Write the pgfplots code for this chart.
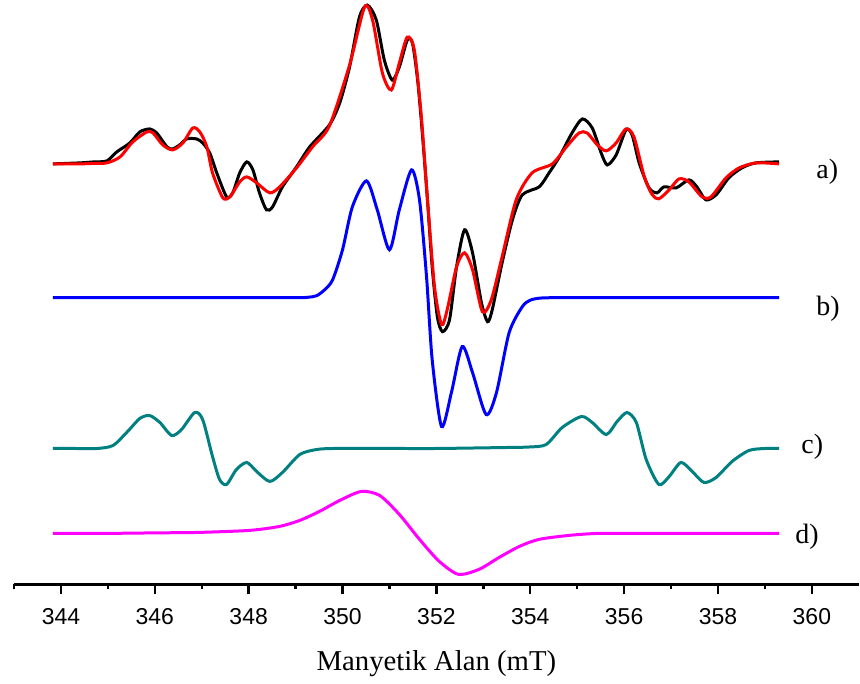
\documentclass[border=0pt]{standalone}
\usepackage{fontspec}
\setmainfont{Liberation Serif}
\newfontfamily\sansf{Liberation Sans}
\usepackage{pgfplots}
\pgfplotsset{compat=1.18}

\definecolor{expblack}{RGB}{0,0,0}
\definecolor{simred}{RGB}{255,0,0}
\definecolor{simblue}{RGB}{0,0,255}
\definecolor{simteal}{RGB}{0,128,128}
\definecolor{simmag}{RGB}{255,0,255}

\begin{document}
\begin{tikzpicture}
\begin{axis}[
    scale only axis,
    width=423pt, height=292.5pt,
    xmin=343, xmax=361, ymin=0, ymax=585,
    axis x line=bottom,
    axis y line=none,
    x axis line style={-, line width=1.2pt},
    xtick={344,346,...,360},
    minor xtick={343,345,...,359},
    tick align=outside,
    major tick length=5pt,
    minor tick length=2.5pt,
    every tick/.style={black, line width=1.2pt},
    /pgf/number format/assume math mode=true,
    xticklabel style={font=\sansf\fontsize{11.5}{12}\selectfont, yshift=-3.5pt},
    xlabel={Manyetik Alan (mT)},
    xlabel style={font=\fontsize{14.4}{16}\selectfont, at={(axis description cs:0.5,0)}, anchor=base, yshift=-43pt},
    clip=false,
    every axis plot/.append style={line width=1.5pt, smooth, tension=0.45},
]

% a) experimental
\addplot[expblack] coordinates {
(343.83,421) (344.40,422) (344.70,423) (344.98,424) (345.19,433) (345.47,442) (345.68,453) (345.89,456)
(346.04,452) (346.26,438) (346.38,436) (346.53,440) (346.68,446) (346.89,446)
(347.02,442) (347.17,432) (347.32,412) (347.53,388) (347.66,392) (347.81,412)
(347.96,423) (348.09,415) (348.23,392) (348.38,375) (348.51,378) (348.72,398)
(349.02,418) (349.30,438) (349.72,460) (349.94,482) (350.15,518) (350.36,568)
(350.53,580) (350.72,565) (350.89,525) (351.06,505) (351.21,518) (351.38,545)
(351.49,542) (351.60,505) (351.70,452) (351.81,385) (351.91,318) (352.02,268)
(352.13,253) (352.28,265) (352.43,318) (352.60,355) (352.77,332) (352.96,282)
(353.09,263) (353.19,275) (353.40,322) (353.62,365) (353.83,390) (354.19,398)
(354.40,412) (354.62,428) (354.89,452) (355.11,466) (355.32,457) (355.51,432)
(355.64,420) (355.83,430) (356.04,455) (356.17,450) (356.32,422) (356.53,397)
(356.70,392) (356.85,398) (357.11,397) (357.38,405) (357.55,398) (357.74,385)
(357.96,390) (358.23,407) (358.51,417) (358.81,422) (359.30,423)
};

% a) simulated
\addplot[simred] coordinates {
(343.83,421) (344.40,421) (344.70,421.5) (344.98,422) (345.26,428) (345.53,443) (345.83,453) (345.96,452)
(346.17,440) (346.38,435) (346.60,442) (346.81,457) (346.96,453) (347.11,438)
(347.23,412) (347.45,387) (347.60,388) (347.81,403) (347.96,408) (348.17,402)
(348.45,392) (348.66,398) (349.02,417) (349.36,438) (349.72,459) (350.15,520)
(350.47,578) (350.64,565) (350.85,512) (351.04,495) (351.21,522) (351.38,548)
(351.53,535) (351.68,468) (351.81,385) (351.96,298) (352.11,260) (352.23,275)
(352.43,318) (352.60,332) (352.77,315) (352.98,273) (353.17,285) (353.40,328)
(353.70,385) (354.04,412) (354.47,421) (354.77,438) (355.04,452) (355.21,452)
(355.43,440) (355.62,434) (355.83,442) (356.04,456) (356.21,448) (356.43,408)
(356.60,390) (356.74,386) (356.96,395) (357.17,406) (357.38,403) (357.66,388)
(357.85,388) (358.17,407) (358.45,417) (358.81,422) (359.30,421)
};

% b)
\addplot[simblue] coordinates {
(343.83,287) (345.00,287) (346.00,287) (347.00,287) (348.00,287) (348.60,287)
(349.09,287) (349.28,287.5) (349.45,289) (349.62,295) (349.79,305) (350.00,335) (350.21,378)
(350.51,404) (350.74,375) (351.00,335) (351.21,375) (351.47,415) (351.64,385)
(351.79,308) (351.91,225) (352.11,158) (352.32,192) (352.55,238) (352.77,212)
(353.06,170) (353.28,192) (353.55,252) (353.83,278) (354.00,284.5) (354.19,286.5)
(354.45,287) (354.80,287) (355.50,287) (356.50,287) (357.50,287) (358.50,287) (359.30,287)
};

% c)
\addplot[simteal] coordinates {
(343.83,136) (344.30,136) (344.77,136) (345.11,139) (345.40,152) (345.68,166) (345.89,169)
(346.11,162) (346.36,149) (346.57,155) (346.85,172) (347.02,165) (347.23,128)
(347.38,105) (347.53,100) (347.74,115) (347.96,122) (348.17,113) (348.45,103)
(348.72,112) (349.09,130) (349.45,135) (349.80,136) (350.50,136) (351.21,136)
(352.00,136) (352.80,136.5) (353.50,137) (353.98,137.5) (354.34,140)
(354.68,157) (355.09,168) (355.32,162) (355.62,150) (355.85,163) (356.06,172)
(356.26,162) (356.47,125) (356.74,100) (356.96,108) (357.21,122) (357.45,113)
(357.70,102) (357.96,107) (358.30,123) (358.66,134) (359.00,136) (359.30,136)
};

% d)
\addplot[simmag] coordinates {
(343.83,51) (345.00,51) (346.00,51.5) (346.96,52) (348.02,54) (348.66,58) (349.09,64) (349.51,73)
(349.94,84) (350.40,93) (350.79,89) (351.21,70) (351.64,45) (352.06,23)
(352.47,10) (352.91,15) (353.34,27) (353.77,38) (354.19,45) (354.83,49)
(355.47,51) (356.50,51) (357.50,51) (358.50,51) (359.30,51)
};

\node[anchor=west, inner sep=0pt, font=\fontsize{14}{16}\selectfont] at (axis cs:360.09,413) {a)};
\node[anchor=west, inner sep=0pt, font=\fontsize{14}{16}\selectfont] at (axis cs:360.09,276) {b)};
\node[anchor=west, inner sep=0pt, font=\fontsize{14}{16}\selectfont] at (axis cs:359.77,138) {c)};
\node[anchor=west, inner sep=0pt, font=\fontsize{14}{16}\selectfont] at (axis cs:359.64,48) {d)};
\end{axis}
\path (current axis.south west) ++(-7pt,-49.5pt);
\path (current axis.north east);
\end{tikzpicture}
\end{document}
